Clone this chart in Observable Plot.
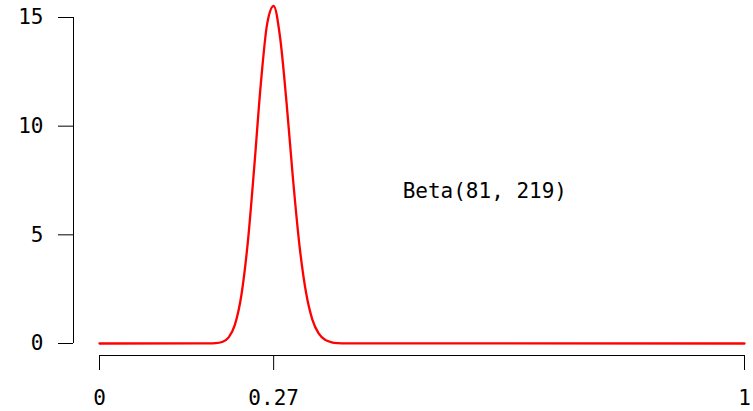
<!DOCTYPE html>
<html>
<head>
<meta charset="utf-8">
<script src="https://cdn.jsdelivr.net/npm/d3@7"></script>
<script src="https://cdn.jsdelivr.net/npm/@observablehq/plot@0.6"></script>
<style>
  html, body { margin: 0; padding: 0; background: #fff; }
</style>
</head>
<body>
<div id="chart"></div>
<script>
// Density values (x, density)
const xs = [0, 0.17, 0.18, 0.19, 0.20, 0.21, 0.22, 0.23, 0.24, 0.25, 0.26, 0.27, 0.28, 0.29, 0.30, 0.31, 0.32, 0.33, 0.34, 0.35, 0.36, 0.37, 0.38, 1];
const ys = [0, 0.002, 0.013, 0.067, 0.27, 0.87, 2.23, 4.68, 8.15, 11.91, 14.72, 15.53, 14.08, 11.08, 7.57, 4.52, 2.38, 1.10, 0.45, 0.165, 0.054, 0.016, 0.004, 0];
const xTicks = [0, 0.27, 1];
const yTicks = [0, 5, 10, 15];
const labelText = "Beta(81, 219)";
const labelPos = [0.47, 7];

const data = xs.map((x, i) => ({x, y: ys[i]}));

const chart = Plot.plot({
  width: 753,
  height: 411,
  marginLeft: 99,
  marginRight: 9,
  marginTop: 17,
  marginBottom: 68,
  style: {fontFamily: "'DejaVu Sans Mono', monospace", fontSize: "21px", background: "#fff", color: "#000"},
  x: {domain: [0, 1]},
  y: {domain: [0, 15]},
  marks: [
    Plot.ruleX([0], {y1: 0, y2: 15, dx: -26, stroke: "#000", strokeWidth: 1}),
    Plot.axisY({ticks: yTicks, tickFormat: d => String(d), dx: -26, tickSize: 15, tickPadding: 15, stroke: "#000", strokeOpacity: 1, label: null, fontSize: 21}),
    Plot.ruleY([0], {x1: 0, x2: 1, dy: 12, stroke: "#000", strokeWidth: 1}),
    Plot.axisX({ticks: xTicks, tickFormat: d => String(d), dy: 12, tickSize: 15, tickPadding: 20, stroke: "#000", strokeOpacity: 1, label: null, fontSize: 21}),
    Plot.line(data, {x: "x", y: "y", stroke: "red", strokeWidth: 2.3, curve: "monotone-x"}),
    Plot.text([labelText], {x: labelPos[0], y: labelPos[1], text: d => d, textAnchor: "start", fill: "#000", fontSize: 21})
  ]
});
document.getElementById("chart").appendChild(chart);
</script>
</body>
</html>
